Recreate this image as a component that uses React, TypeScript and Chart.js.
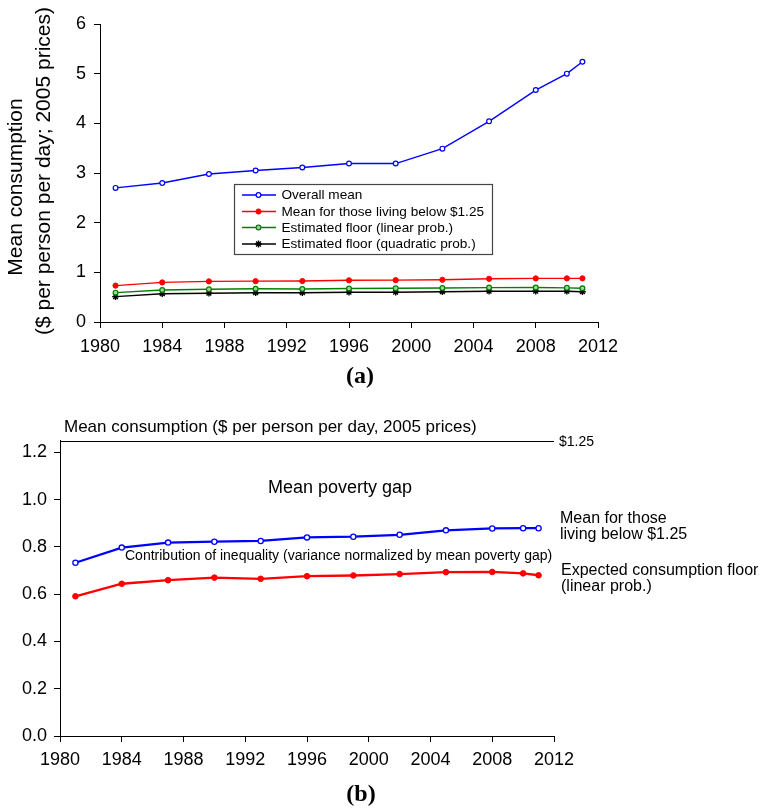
import React, { useEffect, useRef } from "react";
import { Chart, registerables } from "chart.js";

Chart.register(...registerables);

// ---------- data ----------
const YEARS = [1981, 1984, 1987, 1990, 1993, 1996, 1999, 2002, 2005, 2008, 2010, 2011];
const OVERALL_MEAN = [2.7, 2.8, 2.98, 3.05, 3.11, 3.19, 3.19, 3.49, 4.04, 4.67, 5.0, 5.24];
const MEAN_BELOW = [0.733, 0.797, 0.818, 0.822, 0.825, 0.84, 0.843, 0.851, 0.87, 0.878, 0.879, 0.879];
const FLOOR_LINEAR = [0.591, 0.644, 0.659, 0.67, 0.665, 0.676, 0.679, 0.685, 0.693, 0.694, 0.688, 0.68];
const FLOOR_QUADRATIC = [0.51, 0.57, 0.58, 0.59, 0.59, 0.6, 0.6, 0.61, 0.62, 0.62, 0.62, 0.61];

const X_MIN = 1980;
const X_MAX = 2012;
const X_STEP = 4;
const A_Y_MAX = 6;
const A_Y_STEP = 1;
const B_Y_MAX = 1.25;
const B_Y_STEP = 0.2;
const POVERTY_LINE = 1.25;

const LABELS_A = [
  "Overall mean",
  "Mean for those living below $1.25",
  "Estimated floor (linear prob.)",
  "Estimated floor (quadratic prob.)",
];
const Y_TITLE_A = ["Mean consumption", "($ per person per day; 2005 prices)"];
const TITLE_B = "Mean consumption ($ per person per day, 2005 prices)";
const POVERTY_LABEL = "$1.25";
const GAP_LABEL = "Mean poverty gap";
const INEQ_LABEL = "Contribution of inequality (variance normalized by mean poverty gap)";
const MEAN_BELOW_LABEL = ["Mean for those", "living below $1.25"];
const FLOOR_LABEL = ["Expected consumption floor", "(linear prob.)"];

const FONT = '"Liberation Sans", Arial, Helvetica, sans-serif';
const SERIF = '"Liberation Serif", "Times New Roman", serif';

const pts = (vals: number[]) => YEARS.map((x, i) => ({ x, y: vals[i] }));

const axisCommon = (padding: number) => ({
  grid: { display: true, drawOnChartArea: false, drawTicks: true, tickLength: 6, color: "#000", lineWidth: 1 },
  border: { display: true, color: "#000", width: 1 },
  ticks: { padding, color: "#000", font: { size: 18, family: FONT } },
});

function drawMarker(ctx: CanvasRenderingContext2D, style: string, x: number, y: number, r: number, stroke: string, fill: string, lw: number) {
  ctx.save();
  ctx.lineWidth = lw;
  ctx.strokeStyle = stroke;
  ctx.fillStyle = fill;
  if (style === "star") {
    ctx.beginPath();
    ctx.moveTo(x - r, y); ctx.lineTo(x + r, y);
    ctx.moveTo(x, y - r); ctx.lineTo(x, y + r);
    const d = r * 0.707;
    ctx.moveTo(x - d, y - d); ctx.lineTo(x + d, y + d);
    ctx.moveTo(x - d, y + d); ctx.lineTo(x + d, y - d);
    ctx.stroke();
  } else {
    ctx.beginPath();
    ctx.arc(x, y, r, 0, Math.PI * 2);
    ctx.fill();
    ctx.stroke();
  }
  ctx.restore();
}

const legendBoxPlugin = {
  id: "legendBoxA",
  afterDraw(chart: any) {
    const ctx: CanvasRenderingContext2D = chart.ctx;
    ctx.save();
    // y-axis title (two rotated lines)
    ctx.fillStyle = "#000";
    ctx.font = `21px ${FONT}`;
    ctx.textAlign = "center";
    ctx.textBaseline = "middle";
    const titlePos = [[16, 187], [44, 171]];
    Y_TITLE_A.forEach((t, i) => {
      ctx.save();
      ctx.translate(titlePos[i][0], titlePos[i][1]);
      ctx.rotate(-Math.PI / 2);
      ctx.fillText(t, 0, 0);
      ctx.restore();
    });

    const bx = 234.5, by = 184.5, bw = 258, bh = 70;
    ctx.fillStyle = "#fff";
    ctx.fillRect(bx, by, bw, bh);
    ctx.strokeStyle = "#444";
    ctx.lineWidth = 1.2;
    ctx.strokeRect(bx, by, bw, bh);
    const rows = [195, 211.5, 227.5, 244];
    chart.data.datasets.forEach((ds: any, i: number) => {
      const y = rows[i];
      ctx.strokeStyle = ds.borderColor;
      ctx.lineWidth = ds.borderWidth;
      ctx.beginPath();
      ctx.moveTo(242, y);
      ctx.lineTo(276, y);
      ctx.stroke();
      drawMarker(ctx, ds.pointStyle, 258.5, y, ds.pointRadius, ds.pointBorderColor, ds.pointBackgroundColor, ds.pointBorderWidth);
      ctx.fillStyle = "#000";
      ctx.font = `13.6px ${FONT}`;
      ctx.textBaseline = "middle";
      ctx.textAlign = "left";
      ctx.fillText(ds.label, 281.5, y + 0.5);
    });
    ctx.font = `bold 24px ${SERIF}`;
    ctx.textAlign = "center";
    ctx.textBaseline = "middle";
    ctx.fillText("(a)", 360, 377);
    ctx.restore();
  },
};

const annotationsPluginB = {
  id: "annotationsB",
  afterDraw(chart: any) {
    const ctx: CanvasRenderingContext2D = chart.ctx;
    const { left, right } = chart.chartArea;
    const yS = chart.scales.y;
    const yLine = Math.round(yS.getPixelForValue(POVERTY_LINE)) + 0.5;
    ctx.save();
    ctx.strokeStyle = "#000";
    ctx.lineWidth = 1;
    ctx.beginPath();
    ctx.moveTo(left, yLine);
    ctx.lineTo(right, yLine);
    ctx.stroke();
    ctx.fillStyle = "#000";
    ctx.textAlign = "left";
    ctx.textBaseline = "middle";
    ctx.font = `14px ${FONT}`;
    ctx.fillText(POVERTY_LABEL, right + 5, yLine + 1);
    ctx.font = `17px ${FONT}`;
    ctx.fillText(TITLE_B, 64, 27);
    ctx.font = `18px ${FONT}`;
    ctx.fillText(GAP_LABEL, 268, 88);
    ctx.font = `14px ${FONT}`;
    ctx.fillText(INEQ_LABEL, 125, 156);
    ctx.font = `16px ${FONT}`;
    ctx.fillText(MEAN_BELOW_LABEL[0], right + 6, 118.5);
    ctx.fillText(MEAN_BELOW_LABEL[1], right + 6, 135);
    ctx.fillText(FLOOR_LABEL[0], right + 7, 171);
    ctx.fillText(FLOOR_LABEL[1], right + 7, 187);
    ctx.font = `bold 24px ${SERIF}`;
    ctx.textAlign = "center";
    ctx.fillText("(b)", 361, 395);
    ctx.restore();
  },
};

export default function App() {
  const refA = useRef<HTMLCanvasElement | null>(null);
  const refB = useRef<HTMLCanvasElement | null>(null);

  useEffect(() => {
    if (!refA.current || !refB.current) return;
    Chart.defaults.font.family = FONT;
    Chart.defaults.color = "#000";

    const xA = axisCommon(8);
    const chartA = new Chart(refA.current, {
      type: "line",
      data: {
        datasets: [
          {
            label: LABELS_A[0], data: pts(OVERALL_MEAN), borderColor: "#0000ff", borderWidth: 1.4,
            pointStyle: "circle", pointRadius: 2.4, pointBackgroundColor: "#ffffff", pointBorderColor: "#0000ff",
            pointBorderWidth: 1.2, tension: 0, fill: false,
          },
          {
            label: LABELS_A[1], data: pts(MEAN_BELOW), borderColor: "#ff0000", borderWidth: 1.4,
            pointStyle: "circle", pointRadius: 2.6, pointBackgroundColor: "#ff0000", pointBorderColor: "#ff0000",
            pointBorderWidth: 1, tension: 0, fill: false,
          },
          {
            label: LABELS_A[2], data: pts(FLOOR_LINEAR), borderColor: "#008000", borderWidth: 1.4,
            pointStyle: "circle", pointRadius: 2.4, pointBackgroundColor: "#9fd49f", pointBorderColor: "#008000",
            pointBorderWidth: 1.2, tension: 0, fill: false,
          },
          {
            label: LABELS_A[3], data: pts(FLOOR_QUADRATIC), borderColor: "#000000", borderWidth: 1.4,
            pointStyle: "star", pointRadius: 3.4, pointBackgroundColor: "#000000", pointBorderColor: "#000000",
            pointBorderWidth: 1.4, tension: 0, fill: false,
          },
        ],
      },
      options: {
        responsive: false,
        animation: false,
        devicePixelRatio: 1,
        layout: { padding: { left: 0, top: 24, right: 164, bottom: 38 } },
        plugins: { legend: { display: false }, tooltip: { enabled: false }, title: { display: false } },
        scales: {
          x: {
            type: "linear", min: X_MIN, max: X_MAX,
            afterFit: (s: any) => { s.height = 40; },
            grid: xA.grid, border: xA.border,
            ticks: { ...xA.ticks, stepSize: X_STEP, autoSkip: false, callback: (v: any) => String(v) },
          },
          y: {
            type: "linear", min: 0, max: A_Y_MAX,
            afterFit: (s: any) => { s.width = 100; },
            grid: xA.grid, border: xA.border,
            ticks: { ...xA.ticks, stepSize: A_Y_STEP, callback: (v: any) => String(v) },
            title: { display: false },
          },
        },
      } as any,
      plugins: [legendBoxPlugin],
    });

    const xB = axisCommon(7);
    const chartB = new Chart(refB.current, {
      type: "line",
      data: {
        datasets: [
          {
            label: MEAN_BELOW_LABEL.join(" "), data: pts(MEAN_BELOW), borderColor: "#0000ff", borderWidth: 2.3,
            pointStyle: "circle", pointRadius: 2.6, pointBackgroundColor: "#ffffff", pointBorderColor: "#0000ff",
            pointBorderWidth: 1.3, tension: 0, fill: false,
          },
          {
            label: FLOOR_LABEL.join(" "), data: pts(FLOOR_LINEAR), borderColor: "#ff0000", borderWidth: 2.3,
            pointStyle: "circle", pointRadius: 2.8, pointBackgroundColor: "#ff0000", pointBorderColor: "#ff0000",
            pointBorderWidth: 1, tension: 0, fill: false,
          },
        ],
      },
      options: {
        responsive: false,
        animation: false,
        devicePixelRatio: 1,
        layout: { padding: { left: 0, top: 40.5, right: 208, bottom: 33 } },
        plugins: { legend: { display: false }, tooltip: { enabled: false }, title: { display: false } },
        scales: {
          x: {
            type: "linear", min: X_MIN, max: X_MAX,
            afterFit: (s: any) => { s.height = 40; },
            grid: xB.grid, border: xB.border,
            ticks: { ...xB.ticks, stepSize: X_STEP, autoSkip: false, callback: (v: any) => String(v) },
          },
          y: {
            type: "linear", min: 0, max: B_Y_MAX,
            afterFit: (s: any) => { s.width = 60; },
            grid: xB.grid, border: xB.border,
            ticks: { ...xB.ticks, stepSize: B_Y_STEP, includeBounds: false, callback: (v: any) => Number(v).toFixed(1) },
          },
        },
      } as any,
      plugins: [annotationsPluginB],
    });

    return () => {
      chartA.destroy();
      chartB.destroy();
    };
  }, []);

  return (
    <div style={{ position: "absolute", left: 0, top: 0, width: 762, height: 809, background: "#fff" }}>
      <canvas ref={refA} width={762} height={400} style={{ position: "absolute", left: 0, top: 0, width: 762, height: 400 }} />
      <canvas ref={refB} width={762} height={409} style={{ position: "absolute", left: 0, top: 400, width: 762, height: 409 }} />
    </div>
  );
}
